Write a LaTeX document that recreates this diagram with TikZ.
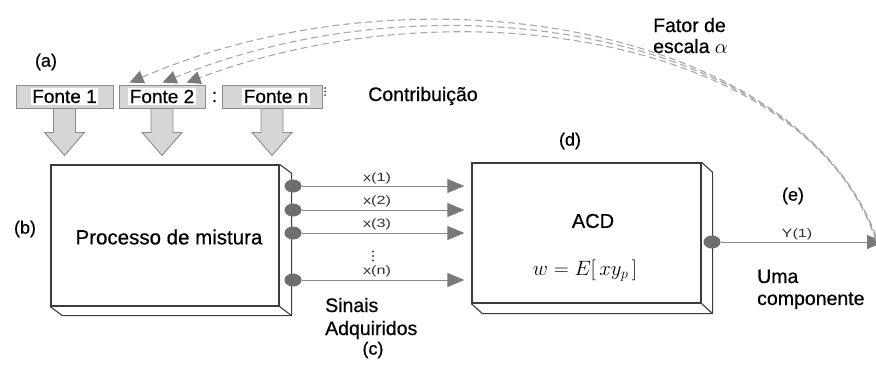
\documentclass[tikz,border=0pt]{standalone}
\usepackage{fontspec}
\setmainfont[FakeBold=0.6]{Liberation Sans}
\newfontfamily\smallsf[FakeStretch=1.35]{Liberation Sans}
\usetikzlibrary{arrows.meta,calc,shapes.geometric}

\definecolor{boxline}{HTML}{3C3C3C}
\definecolor{fontefill}{HTML}{D6D6D6}
\definecolor{fonteline}{HTML}{8C8C8C}
\definecolor{dotfill}{HTML}{6E6E6E}
\definecolor{sigline}{HTML}{8A8A8A}
\definecolor{dashline}{HTML}{A8A8A8}
\definecolor{headfill}{HTML}{7A7A7A}

\begin{document}
\begin{tikzpicture}[x=1pt,y=-1pt,
  fonte/.style={draw=fonteline,fill=fontefill,line width=0.9pt,minimum height=23pt,inner sep=0pt},
  fontelabel/.style={fill=white,inner xsep=1.5pt,inner ysep=0pt,minimum height=17pt,font=\fontsize{19}{22}\selectfont},
  blockarrow/.style={draw=fonteline,fill=fontefill,line width=0.9pt,line join=miter},
  frontbox/.style={draw=boxline,fill=white,line width=1.3pt,inner sep=0pt},
  sidebox/.style={draw=boxline,line width=1.1pt,line join=round},
  outdot/.style={ellipse,fill=dotfill,minimum width=17pt,minimum height=13pt,inner sep=0pt},
  sig/.style={draw=sigline,line width=1pt,-{Triangle[length=17pt,width=14pt,color=headfill]}},
  fb/.style={draw=dashline,line width=1.1pt,dash pattern=on 7pt off 4pt,-{Triangle[length=14pt,width=13pt,color=headfill]}},
  lbl/.style={font=\fontsize{18}{21}\selectfont,inner sep=0pt},
  txt/.style={font=\fontsize{19.5}{22}\selectfont,inner sep=0pt},
  sml/.style={font=\smallsf\fontsize{12}{14}\selectfont,inner sep=0pt,text=black!80},
  tinydot/.style={fill=black!75,draw=none}
]
\useasboundingbox (0,0) rectangle (876,367);

% Sources
\node[fonte,minimum width=97pt] (f1) at (64.5,96.5) {};
\node[fontelabel] (f1t) at (f1.center) {Fonte 1};
\node[fonte,minimum width=86pt] (f2) at (162,96.5) {};
\node[fontelabel] (f2t) at (f2.center) {Fonte 2};
\node[fonte,minimum width=100pt] (fn) at (272,96.5) {};
\node[fontelabel] (fnt) at (276,96.5) {Fonte n};
\node[font=\fontsize{19}{22}\selectfont,inner sep=0pt] (colon) at (214.5,97) {:};
\fill[tinydot] (325,88) circle (1pt) (325,91.5) circle (1pt) (325,95) circle (1pt);

% Mixing process box
\node[frontbox,minimum width=228pt,minimum height=141pt] (pm) at (165,235.5) {};
\draw[sidebox] (pm.north east) -- ++(12,9) -- ($(pm.south east)+(12,9)$) -- ($(pm.south west)+(12,9)$) -- (pm.south west)
  (pm.south east) -- ++(12,9);
\node[font=\fontsize{20.5}{24}\selectfont,inner sep=0pt] (pmt) at (169,237) {Processo de mistura};

% Block arrows from sources
\foreach \f in {f1,f2,fn}{
  \draw[blockarrow] ($(\f.south)+(-11,0)$) -- ++(22,0) -- ++(0,24) -- ++(9,0) -- ++(-20,23) -- ++(-20,-23) -- ++(9,0) -- cycle;
}

% ACD box
\node[frontbox,minimum width=229pt,minimum height=140pt] (acd) at (586.5,233) {};
\draw[sidebox] (acd.north east) -- ++(11,10) -- ($(acd.south east)+(11,10)$) -- ($(acd.south west)+(11,10)$) -- (acd.south west)
  (acd.south east) -- ++(11,10);
\node[font=\fontsize{20}{24}\selectfont,inner sep=0pt] (acdt) at (593,221) {ACD};
\node[font=\fontsize{21}{24}\selectfont,inner sep=0pt] (form) at (585,271) {$w = E[\,xy_{p}\,]$};

% Output dots of mixing process
\node[outdot] (d1) at (293,186) {};
\node[outdot] (d2) at (293,210) {};
\node[outdot] (d3) at (293,233) {};
\node[outdot] (d4) at (293,280) {};

% Signals
\draw[sig,shorten >=7pt] (d1.east) -- (acd.west |- d1);
\draw[sig,shorten >=7pt] (d2.east) -- (acd.west |- d2);
\draw[sig,shorten >=7pt] (d3.east) -- (acd.west |- d3);
\draw[sig,shorten >=7pt] (d4.east) -- (acd.west |- d4);
\node[sml] (x1) at (377,178) {x(1)};
\node[sml] (x2) at (377,201) {x(2)};
\node[sml] (x3) at (377,224) {x(3)};
\node[sml] (xn) at (377,271) {x(n)};
\fill[tinydot] (373,251.5) circle (1.1pt) (373,256) circle (1.1pt) (373,260.5) circle (1.1pt);

% Output of ACD
\node[outdot] (dout) at (712,242) {};
\coordinate (yend) at (884,242);
\draw[sig] (dout.east) -- (yend);
\node[sml] (y1) at (797,234) {Y(1)};

% Feedback dashed curves
\coordinate (s1) at (876,236);
\coordinate (s2) at (876,238.5);
\coordinate (s3) at (876,241);
\coordinate (t1) at ($(f2.north west)+(11,-2)$);
\coordinate (t2) at ($(f2.north west)+(44,-2)$);
\coordinate (t3) at ($(f2.north west)+(68,-2)$);
\draw[fb] (s1) .. controls (798,28) and (420,-42) .. (t1);
\draw[fb] (s2) .. controls (805,36) and (445,-32) .. (t2);
\draw[fb] (s3) .. controls (812,44) and (468,-22) .. (t3);

% Labels
\node[lbl] (la) at (46,62) {(a)};
\node[lbl] (lb) at (25,229) {(b)};
\node[lbl] (lc) at (373,350) {(c)};
\node[lbl] (ld) at (570,141) {(d)};
\node[lbl] (le) at (793,196) {(e)};

\node[txt] (contrib) at (423,96) {Contribuição};
\node[txt,anchor=base west] (fat1) at (653,32) {Fator de};
\node[txt,anchor=base west] (fat2) at (653,53) {escala {\fontsize{22}{24}\selectfont$\alpha$}};
\node[txt,anchor=base west] (sin1) at (325,312) {Sinais};
\node[txt,anchor=base west] (sin2) at (325,335) {Adquiridos};
\node[txt,anchor=base west] (uma1) at (757,283) {Uma};
\node[txt,anchor=base west] (uma2) at (757,305) {componente};
\end{tikzpicture}
\end{document}
